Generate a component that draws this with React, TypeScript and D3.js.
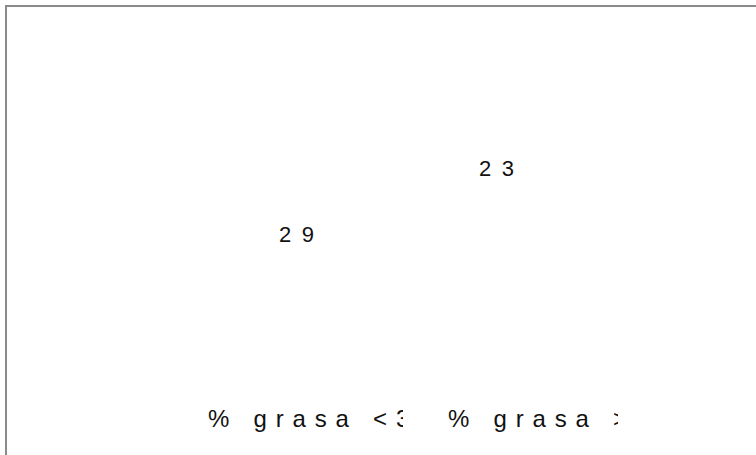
import * as d3 from "d3";
import { useEffect, useRef } from "react";

const categories = ["% grasa <30%", "% grasa >30%"];
const values = [29, 23];

export default function App() {
  const ref = useRef<SVGSVGElement | null>(null);
  useEffect(() => {
    if (!ref.current) return;
    const svg = d3.select(ref.current);
    svg.selectAll("*").remove();
    const w = 756;
    const h = 455;

    const x = d3.scaleBand<string>().domain(categories).range([88, 568]);
    const xv = d3.scaleBand<string>().domain(categories).range([179, 579]);
    const y = d3.scaleLinear().domain([0, 30]).range([-77, 253]);

    // frame, runs off the right and bottom edges
    svg
      .append("rect")
      .attr("x", 6)
      .attr("y", 6)
      .attr("width", w + 20)
      .attr("height", h + 20)
      .attr("fill", "none")
      .attr("stroke", "#8a8a8a")
      .attr("stroke-width", 2);

    const defs = svg.append("defs");
    const clipEnd = [403, 618];
    categories.forEach((c, i) => {
      defs
        .append("clipPath")
        .attr("id", `lab${i}`)
        .append("rect")
        .attr("x", x(c)!)
        .attr("y", 380)
        .attr("width", clipEnd[i] - (x(c) ?? 0))
        .attr("height", 70);
    });

    const font = "'Liberation Sans', Arial, sans-serif";

    svg
      .selectAll("text.val")
      .data(values)
      .join("text")
      .attr("class", "val")
      .attr("x", (_, i) => (xv(categories[i]) ?? 0) + xv.bandwidth() / 2)
      .attr("y", (d) => y(d))
      .attr("font-family", font)
      .attr("font-size", 22)
      .attr("letter-spacing", 10.5)
      .attr("fill", "#111")
      .text((d) => String(d));

    svg
      .selectAll("text.cat")
      .data(categories)
      .join("text")
      .attr("class", "cat")
      .attr("clip-path", (_, i) => `url(#lab${i})`)
      .attr("x", (d) => (x(d) ?? 0) + x.bandwidth() / 2)
      .attr("y", 427)
      .attr("font-family", font)
      .attr("font-size", 24)
      .attr("letter-spacing", 8.8)
      .attr("fill", "#111")
      .text((d) => d);
  }, []);
  return (
    <svg
      ref={ref}
      width={756}
      height={455}
      viewBox="0 0 756 455"
      style={{ position: "absolute", left: 0, top: 0, background: "#fff" }}
    />
  );
}
